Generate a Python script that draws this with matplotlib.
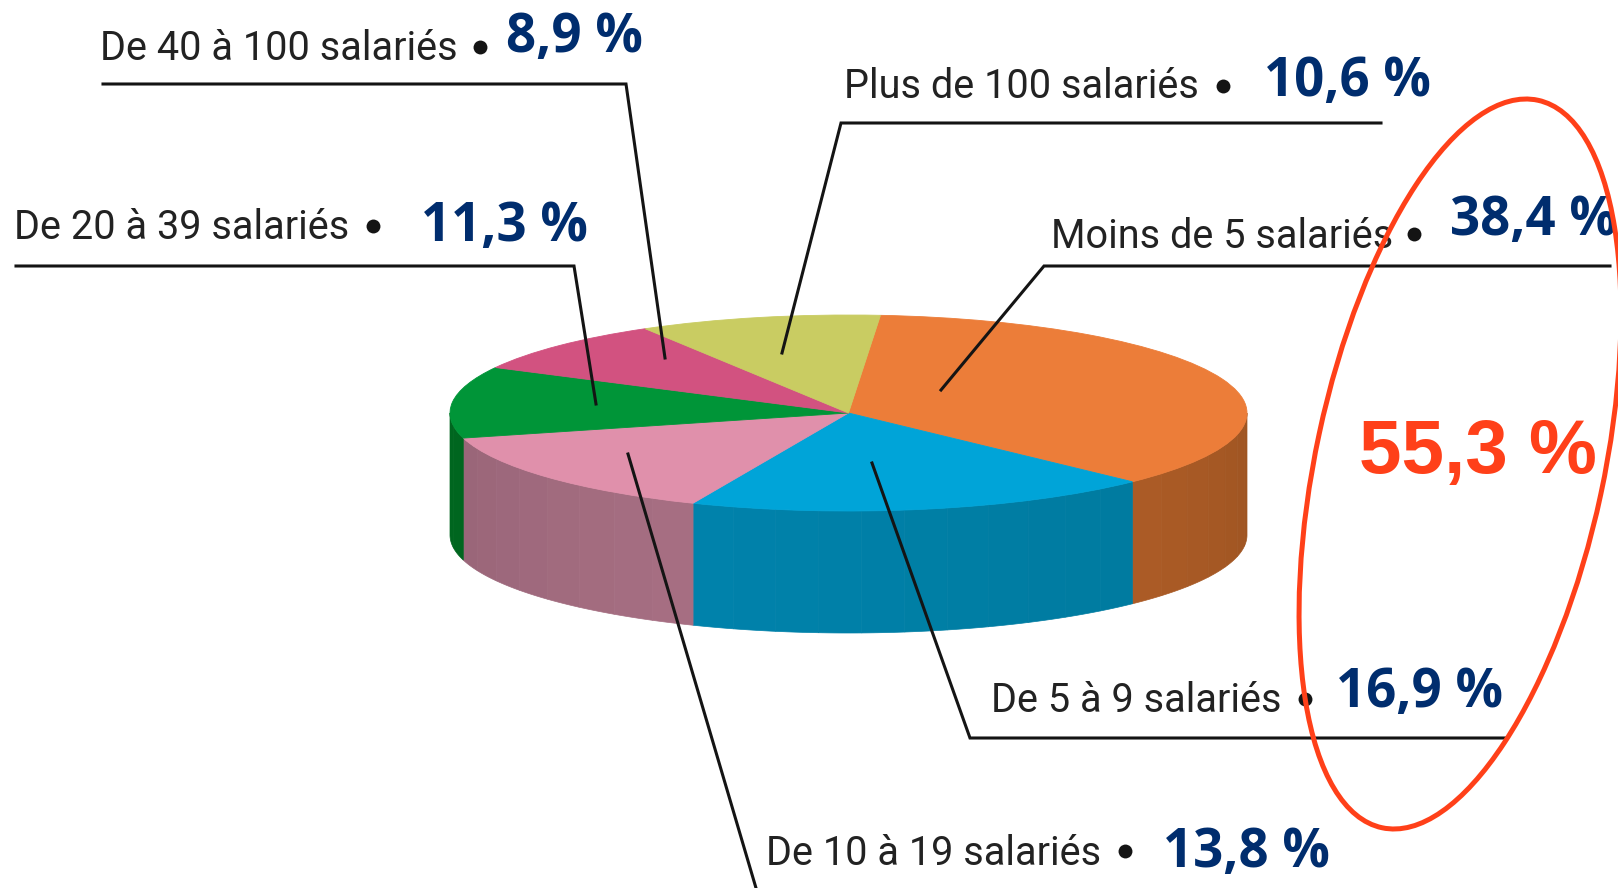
#!/usr/bin/env python3
"""3D-looking pie of firms by headcount, with leader lines and a circled group."""
import numpy as np
import matplotlib
matplotlib.use("Agg")
import matplotlib.pyplot as plt
from matplotlib.patches import Ellipse, Polygon
from matplotlib.transforms import Affine2D

labels = ["Moins de 5 salariés", "De 5 à 9 salariés", "De 10 à 19 salariés",
          "De 20 à 39 salariés", "De 40 à 100 salariés", "Plus de 100 salariés"]
value_labels = ["38,4 %", "16,9 %", "13,8 %", "11,3 %", "8,9 %", "10,6 %"]
# slice sizes as they are drawn in the picture (the perspective skews them a bit)
drawn_shares = [36.1, 19.0, 14.5, 11.8, 8.8, 9.8]
total_label = "55,3 %"

top_colors = ["#EC7D39", "#00A4D8", "#E090AB", "#009538", "#D25280", "#C9CC62"]
side_left = ["#AB5B26", "#0082AB", "#9A6679", "#00661F", "#D25280", "#C9CC62"]
side_right = ["#9F5522", "#007BA0", "#A66E82", "#00661F", "#D25280", "#C9CC62"]

CX, CY, RX, RY, DEPTH = 848.5, 413, 398.5, 98, 122
START = 85.4

label_pos = [(1051, 248), (991, 712), (766, 865), (14, 239), (100, 60), (844, 98)]
bullet_pos = [(1414, 234), (1305, 699), (1125, 851), (373, 226), (480, 47), (1223, 86)]
value_pos = [(1450, 235), (1336, 707), (1163, 867), (421, 241), (506, 52), (1264, 96)]
leaders = [
    [(1610, 266), (1044, 266), (941, 390)],
    [(1507, 738), (970, 738), (872, 463)],
    [(628, 454), (756, 888)],
    [(16, 266), (574, 266), (596, 404)],
    [(103, 84), (626, 84), (665, 358)],
    [(1381, 123), (841, 123), (782, 353)],
]

plt.rcParams["font.family"] = ["Roboto", "DejaVu Sans"]

fig = plt.figure(figsize=(16.18, 8.88), dpi=100)
ax = fig.add_axes([0, 0, 1, 1])

# top face, an ordinary pie squashed into an ellipse
wedges, _ = ax.pie(drawn_shares, colors=top_colors, startangle=START, counterclock=False,
                   wedgeprops=dict(linewidth=0.6))
squash = Affine2D().scale(RX, -RY).translate(CX, CY) + ax.transData
for w, col in zip(wedges, top_colors):
    w.set_transform(squash)
    w.set_edgecolor(col)
    w.set_zorder(3)

# rim, in thin vertical strips so it gets the same banded shading
edges = START - np.concatenate([[0], np.cumsum(drawn_shares)]) / sum(drawn_shares) * 360
for i in range(len(drawn_shares)):
    a0 = max(edges[i + 1], -180)
    a1 = min(edges[i], 0)
    if a1 <= a0:
        continue
    n = max(int((a1 - a0) / 6), 1)
    cuts = np.linspace(a0, a1, n + 1)
    c0 = np.array(matplotlib.colors.to_rgb(side_left[i]))
    c1 = np.array(matplotlib.colors.to_rgb(side_right[i]))
    for j in range(n):
        t = np.radians(np.linspace(cuts[j], cuts[j + 1], 12))
        x = CX + RX * np.cos(t)
        y = CY - RY * np.sin(t)
        pts = np.column_stack([np.r_[x, x[::-1]], np.r_[y, y[::-1] + DEPTH]])
        col = c0 + (c1 - c0) * j / max(n - 1, 1)
        ax.add_patch(Polygon(pts, closed=True, facecolor=col, edgecolor=col, lw=0.5, zorder=2))

ax.set_aspect("auto")
ax.set_xlim(0, 1618)
ax.set_ylim(888, 0)
ax.axis("off")

for pts in leaders:
    xs, ys = zip(*pts)
    ax.plot(xs, ys, color="#141414", lw=2.2, solid_joinstyle="miter", zorder=4)

for i in range(len(labels)):
    ax.text(label_pos[i][0], label_pos[i][1], labels[i], fontsize=28.5, color="#222222",
            ha="left", va="baseline", zorder=5)
    ax.plot(*bullet_pos[i], "o", color="#141414", ms=10, mew=0, zorder=5)
    ax.text(value_pos[i][0], value_pos[i][1], value_labels[i], fontsize=38, color="#002D6E",
            family="Open Sans", fontweight="bold", ha="left", va="baseline", zorder=5)

ax.text(1359, 473, total_label, fontsize=55, color="#FF4019", family="Liberation Sans",
        fontweight="bold", ha="left", va="baseline", zorder=6)
ax.add_patch(Ellipse((1460, 464), 288, 744, angle=12.1, fill=False, edgecolor="#FF4019",
                     lw=3.6, zorder=6))

fig.savefig("out.png", dpi=100)
print("saved out.png")
